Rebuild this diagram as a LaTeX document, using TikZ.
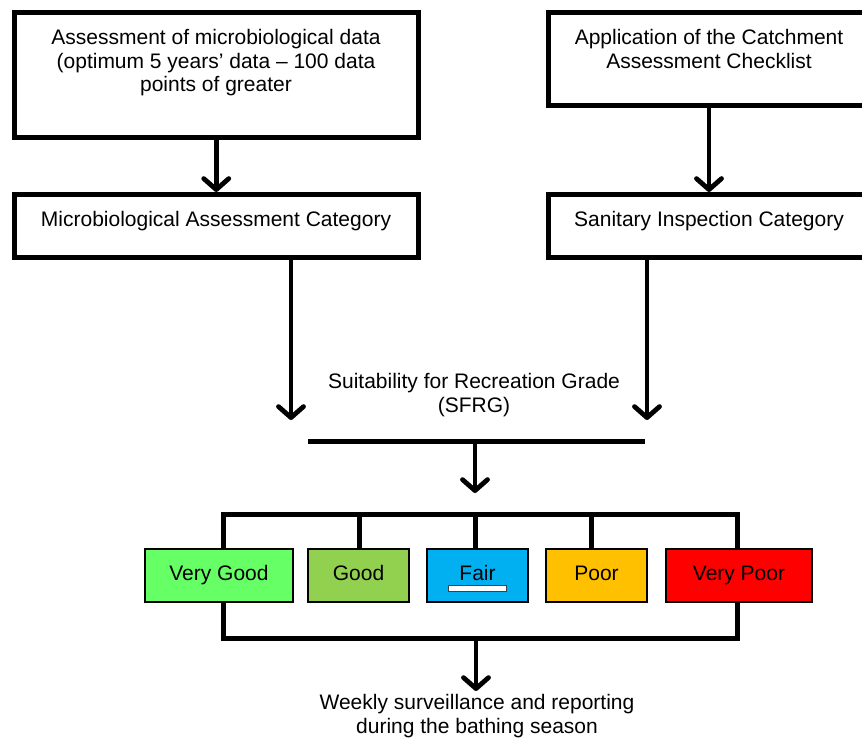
\documentclass[tikz,border=0pt]{standalone}
\usepackage{fontspec}
\setmainfont{Liberation Sans}
\usetikzlibrary{arrows.meta}
\definecolor{vgood}{HTML}{66FF66}
\definecolor{good}{HTML}{92D050}
\definecolor{fair}{HTML}{00B0F0}
\definecolor{poor}{HTML}{FFC000}
\definecolor{vpoor}{HTML}{FF0000}
\begin{document}
\begin{tikzpicture}[x=1pt,y=-1pt,
  bigbox/.style={draw, line width=5pt, inner sep=0pt},
  txt/.style={font=\fontsize{21}{23.5}\selectfont, align=center, inner sep=0pt},
  arr/.style={line width=4.8pt, -{Straight Barb[length=11pt,width=25pt,round]}},
  thk/.style={line width=5pt},
  grade/.style={draw, line width=1.6pt, inner sep=0pt, minimum height=53pt,
    font=\fontsize{21}{23.5}\selectfont, text height=15pt, text depth=4.5pt}
]
\clip (0,0) rectangle (862,746);
% top boxes
\node[bigbox, minimum width=403.5pt, minimum height=125pt] (A) at (216.25,75) {};
\node[txt, anchor=base] (At) at (216,92) {Assessment of microbiological data\\(optimum 5 years’ data – 100 data\\points of greater};
\node[bigbox, minimum width=403.5pt, minimum height=63pt] (B) at (216.25,226) {};
\node[txt, anchor=base] (Bt) at (216,227) {Microbiological Assessment Category};
\node[bigbox, minimum width=321pt, minimum height=93pt] (C) at (709,59) {};
\node[txt, anchor=base] (Ct) at (709,68.5) {Application of the Catchment\\Assessment Checklist};
\node[bigbox, minimum width=321pt, minimum height=63pt] (D) at (709,226) {};
\node[txt, anchor=base] (Dt) at (709,227) {Sanitary Inspection Category};
\draw[arr] (A.south) -- (B.north);
\draw[arr] (C.south) -- (D.north);
% to SFRG
\coordinate (tipL) at (291,420);
\coordinate (tipR) at (647,420);
\draw[arr] (B.south -| tipL) -- (tipL);
\draw[arr] (D.south -| tipR) -- (tipR);
\node[txt, anchor=base] (S) at (474,412) {Suitability for Recreation Grade\\(SFRG)};
\coordinate (barL) at (308,441);
\coordinate (barR) at (645,441);
\draw[thk] (barL) -- (barR);
\coordinate (tipM) at (475,493);
\draw[arr] (barL -| tipM) -- (tipM);
% grade boxes
\node[grade, fill=vgood, minimum width=148pt] (VG) at (219,575.5) {Very Good};
\node[grade, fill=good, minimum width=101pt] (Gd) at (358.5,575.5) {Good};
\node[grade, fill=fair, minimum width=101pt] (Fa) at (477.5,575.5) {Fair};
\node[grade, fill=poor, minimum width=101pt] (Po) at (596.5,575.5) {Poor};
\node[grade, fill=vpoor, minimum width=146pt] (VP) at (739,575.5) {Very Poor};
\node[draw=black!75, fill=white, line width=0.8pt, minimum width=58pt, minimum height=6pt, inner sep=0pt] (fairbar) at (477.5,588) {};
% bracket
\coordinate (v1) at (223,514);
\coordinate (v2) at (359,514);
\coordinate (v3) at (475,514);
\coordinate (v4) at (591,514);
\coordinate (v5) at (737,514);
\draw[thk] (v1 |- VG.north) -- (v1) -- (v5) -- (v5 |- VP.north);
\draw[thk] (v2) -- (v2 |- Gd.north);
\draw[thk] (v3) -- (v3 |- Fa.north);
\draw[thk] (v4) -- (v4 |- Po.north);
\coordinate (brBL) at (223,638);
\coordinate (brBR) at (737,638);
\draw[thk] (brBL |- VG.south) -- (brBL) -- (brBR) -- (brBR |- VP.south);
\coordinate (tipB) at (476,691);
\draw[arr] (brBL -| tipB) -- (tipB);
\node[txt, anchor=base] (W) at (477,733) {Weekly surveillance and reporting\\during the bathing season};
\end{tikzpicture}
\end{document}
